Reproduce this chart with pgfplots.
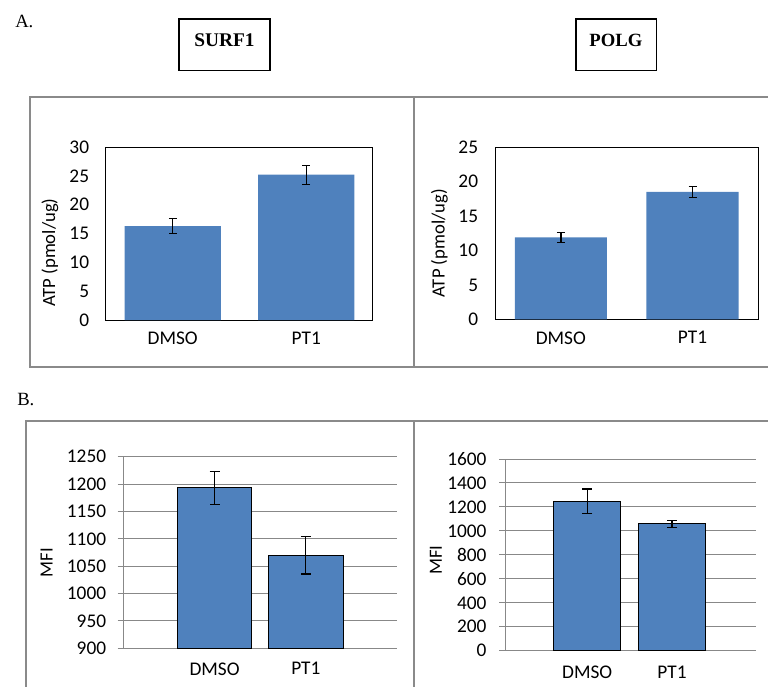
\documentclass[border=0pt]{standalone}
\usepackage{fontspec}
\setmainfont{Carlito}
\newfontfamily\seriffont{Liberation Serif}
\usepackage{pgfplots}
\pgfplotsset{compat=1.18}
\definecolor{barblue}{HTML}{4F81BD}
\definecolor{framegray}{HTML}{8A8A8A}
\definecolor{gridgray}{HTML}{888888}

\pgfplotsset{
  common/.style={
    scale only axis,
    ybar,
    /pgf/number format/assume math mode=true,
    /pgf/number format/1000 sep={},
    xtick={0,1}, xticklabels={DMSO,PT1},
    tick label style={font=\fontsize{14.5}{17}\selectfont},
    xtick style={draw=none},
    clip=false,
  },
  panelA/.style={
    common,
    axis line style={black, line width=0.75pt},
    ytick style={draw=none},
    major tick length=0pt,
    yticklabel style={inner xsep=0pt, xshift=-12.5pt},
    xticklabel style={inner ysep=0pt, yshift=-9pt},
    xmin=-0.5, xmax=1.5,
  },
  panelB/.style={
    common,
    axis lines*=left,
    axis line style={gridgray, line width=0.75pt, -},
    ymajorgrids,
    grid style={gridgray, line width=0.75pt},
    ytick style={gridgray, line width=0.75pt},
    tick align=outside,
    major tick length=4.2pt,
    xmin=-1, xmax=2,
  },
  barA/.style={fill=barblue, draw=none,
    error bars/.cd, y dir=both, y explicit,
    error bar style={black, line width=1pt},
    error mark options={rotate=90, mark size=3pt, line width=1pt, black}},
  barB/.style={fill=barblue, draw=black, line width=0.75pt,
    error bars/.cd, y dir=both, y explicit,
    error bar style={black, line width=1pt},
    error mark options={rotate=90, mark size=3.75pt, line width=1pt, black}},
  ylab/.style n args={2}{every axis y label/.style={at={(axis description cs:#1,#2)}, rotate=90, anchor=center, font=\fontsize{14}{17}\selectfont}},
}

\begin{document}
\begin{tikzpicture}
\useasboundingbox (0,0) rectangle (576pt,515.25pt);

% panel frames
\draw[framegray, line width=1pt] (576pt,442.5pt) -- (22.5pt,442.5pt) -- (22.5pt,240pt) -- (576pt,240pt);
\draw[framegray, line width=1pt] (310.5pt,442.5pt) -- (310.5pt,240pt);
\draw[framegray, line width=1pt] (576pt,199.5pt) -- (19.5pt,199.5pt) -- (19.5pt,0pt);
\draw[framegray, line width=1pt] (310.5pt,199.5pt) -- (310.5pt,0pt);

% panel letters
\node[anchor=base west, inner sep=0pt, font=\seriffont\fontsize{14}{16}\selectfont] at (11.25pt,494.25pt) {A.};
\node[anchor=base west, inner sep=0pt, font=\seriffont\fontsize{14}{16}\selectfont] at (12.75pt,211.5pt) {B.};

% title boxes
\draw[black, line width=0.8pt] (134.25pt,462.2pt) rectangle (202.5pt,501pt);
\node[anchor=base, inner sep=0pt, font=\seriffont\bfseries\fontsize{14.5}{16}\selectfont] at (168.4pt,480.2pt) {SURF1};
\draw[black, line width=0.8pt] (432pt,462.2pt) rectangle (492.5pt,501pt);
\node[anchor=base, inner sep=0pt, font=\seriffont\bfseries\fontsize{14}{16}\selectfont] at (461.9pt,480.0pt) {POLG};

% A: SURF1
\begin{axis}[panelA, at={(79.5pt,275.25pt)}, anchor=south west,
  width=200.25pt, height=129.75pt,
  ymin=0, ymax=30, ytick={0,5,...,30}, bar width=0.72,
  ylabel={ATP (pmol/ug)}, ylab={-0.21}{0.39}]
\addplot[barA] coordinates {(0,16.3) +- (0,1.35) (1,25.2) +- (0,1.65)};
\end{axis}

% A: POLG
\begin{axis}[panelA, at={(371.25pt,275.8pt)}, anchor=south west,
  width=197.5pt, height=129pt,
  ymin=0, ymax=25, ytick={0,5,...,25}, bar width=0.70,
  ylabel={ATP (pmol/ug)}, ylab={-0.2115}{0.442}]
\addplot[barA] coordinates {(0,11.9) +- (0,0.7) (1,18.5) +- (0,0.8)};
\end{axis}

% B: SURF1
\begin{axis}[panelB, at={(92.5pt,29.0pt)}, anchor=south west,
  width=205.3pt, height=143.7pt,
  ymin=900, ymax=1250, ytick={900,950,...,1250}, bar width=0.82,
  yticklabel style={inner xsep=0pt, xshift=-8.5pt},
  xticklabel style={inner ysep=0pt, yshift=-6.25pt},
  ylabel={MFI}, ylab={-0.28}{0.447}]
\addplot[barB] coordinates {(0,1193) +- (0,30) (1,1070) +- (0,34)};
\end{axis}

% B: POLG
\begin{axis}[panelB, at={(378.75pt,27.2pt)}, anchor=south west,
  width=188.25pt, height=143.8pt,
  ymin=0, ymax=1600, ytick={0,200,...,1600}, bar width=0.785,
  xmin=-0.97, xmax=1.99,
  yticklabel style={inner xsep=0pt, xshift=-9.5pt},
  xticklabel style={inner ysep=0pt, yshift=-7pt},
  ylabel={MFI}, ylab={-0.275}{0.473}]
\addplot[barB] coordinates {(0,1248) +- (0,102) (1,1058) +- (0,30)};
\end{axis}
\end{tikzpicture}
\end{document}
